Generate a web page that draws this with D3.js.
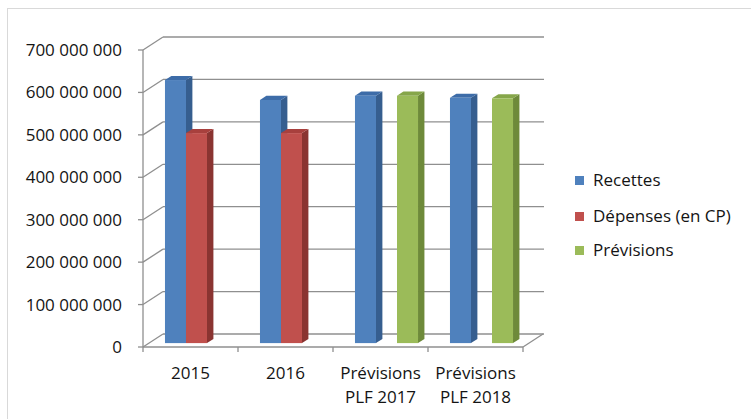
<!DOCTYPE html>
<html><head><meta charset="utf-8">
<script src="https://cdn.jsdelivr.net/npm/d3@7"></script>
<style>body{margin:0;background:#fff}svg{display:block}text{font-family:"Open Sans",sans-serif;fill:#141414}</style>
</head><body><svg id="c" width="751" height="419"></svg>
<script>
const categories = [["2015"], ["2016"], ["Prévisions", "PLF 2017"], ["Prévisions", "PLF 2018"]];
const seriesNames = ["Recettes", "Dépenses (en CP)", "Prévisions"];
const recettes = [620000000, 573000000, 583000000, 578000000];
const depenses = [495000000, 495000000, null, null];
const previsions = [null, null, 583000000, 577000000];
const yTicks = [0, 100000000, 200000000, 300000000, 400000000, 500000000, 600000000, 700000000];

const colors = {
  "Recettes": {front: "#4f81bd", side: "#365e8f", top: "#3d6ca8"},
  "Dépenses (en CP)": {front: "#c0504d", side: "#8a3431", top: "#a8403d"},
  "Prévisions": {front: "#9bbb59", side: "#6e8a3a", top: "#86a64a"}
};
const seriesData = [recettes, depenses, previsions];

const svg = d3.select("#c");
svg.append("rect").attr("x", 7.5).attr("y", 8.5).attr("width", 800).attr("height", 500)
  .attr("fill", "none").attr("stroke", "#d9d9d9");

const DX = 20, DY = -13;
const left = 143, right = 523;
const y = d3.scaleLinear().domain([0, 700000000]).range([347, 50]);
const x0 = d3.scaleBand().domain(d3.range(categories.length)).range([left, right]);
const x1 = d3.scaleBand().domain(seriesNames).range([0, x0.bandwidth()]).paddingOuter(0.76);
const fmt = v => d3.format(",")(v).replace(/,/g, " ");
const grid = "#8f8f8f";
const FS = 17;

const g = svg.append("g");
yTicks.forEach(t => {
  const yy = y(t);
  g.append("line").attr("x1", left + DX).attr("x2", right + DX + 1).attr("y1", yy + DY).attr("y2", yy + DY)
    .attr("stroke", grid).attr("stroke-width", 1.3);
  g.append("line").attr("x1", left).attr("y1", yy).attr("x2", left + DX).attr("y2", yy + DY)
    .attr("stroke", grid).attr("stroke-width", 1.3);
});
g.append("line").attr("x1", left).attr("x2", right).attr("y1", y(0)).attr("y2", y(0)).attr("stroke", grid).attr("stroke-width", 1.3);
g.append("line").attr("x1", right).attr("y1", y(0)).attr("x2", right + DX).attr("y2", y(0) + DY).attr("stroke", grid).attr("stroke-width", 1.3);
g.append("line").attr("x1", left).attr("x2", left).attr("y1", y(700000000)).attr("y2", y(0)).attr("stroke", grid).attr("stroke-width", 1.3);
yTicks.forEach(t => {
  g.append("line").attr("x1", left - 5).attr("x2", left).attr("y1", y(t)).attr("y2", y(t)).attr("stroke", grid).attr("stroke-width", 1.3);
  g.append("text").attr("x", 122).attr("y", y(t)).attr("dy", "0.35em").attr("text-anchor", "end")
    .attr("font-size", FS).text(fmt(t));
});
d3.range(categories.length + 1).forEach(i => {
  const xx = i < categories.length ? x0(i) : right;
  g.append("line").attr("x1", xx).attr("x2", xx).attr("y1", y(0)).attr("y2", y(0) + 5).attr("stroke", grid).attr("stroke-width", 1.3);
});
categories.forEach((lines, i) => {
  const cx = x0(i) + x0.bandwidth() / 2;
  const t = g.append("text").attr("text-anchor", "middle").attr("font-size", FS);
  lines.forEach((l, k) => t.append("tspan").attr("x", cx).attr("y", 379 + k * 24).text(l));
});

const f0 = 0.3, f1 = 0.62;
const bars = svg.append("g");
categories.forEach((c, i) => {
  seriesNames.forEach((s, k) => {
    const v = seriesData[k][i];
    if (v == null) return;
    const col = colors[s];
    const xa = x0(i) + x1(s) + f0 * DX, xb = xa + x1.bandwidth();
    const ya = y(v) + f0 * DY, yb = y(0) + f0 * DY;
    const ddx = (f1 - f0) * DX, ddy = (f1 - f0) * DY;
    bars.append("path").attr("d", `M${xb},${ya}L${xb + ddx},${ya + ddy}L${xb + ddx},${yb + ddy}L${xb},${yb}Z`).attr("fill", col.side);
    bars.append("path").attr("d", `M${xa},${ya}L${xa + ddx},${ya + ddy}L${xb + ddx},${ya + ddy}L${xb},${ya}Z`).attr("fill", col.top);
    bars.append("rect").attr("x", xa).attr("y", ya).attr("width", xb - xa).attr("height", yb - ya).attr("fill", col.front);
  });
});

const leg = svg.append("g");
const legY = [180, 216, 250];
seriesNames.forEach((s, k) => {
  leg.append("rect").attr("x", 575).attr("y", legY[k] - 4).attr("width", 9).attr("height", 9).attr("fill", colors[s].front);
  leg.append("text").attr("x", 593).attr("y", legY[k]).attr("dy", "0.35em").attr("font-size", FS).text(s);
});
</script></body></html>
